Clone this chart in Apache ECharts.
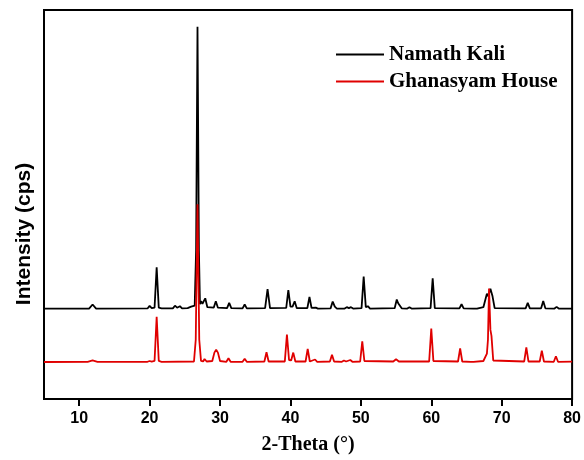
<!DOCTYPE html>
<html>
<head>
<meta charset="utf-8">
<script src="https://cdn.jsdelivr.net/npm/echarts@6/dist/echarts.min.js"></script>
<style>
html,body{margin:0;padding:0;background:#fff;}
#chart{width:584px;height:460px;}
</style>
</head>
<body>
<div id="chart"></div>
<script>
// 2-Theta tick labels
var xTicks = [10, 20, 30, 40, 50, 60, 70, 80];
var seriesNames = ['Namath Kali', 'Ghanasyam House'];

// Namath Kali pattern [2-theta, intensity] (plotted with vertical offset as in the figure)
var namathKali = [
  [5,915],
  [11.4,915],[11.9,957],[12.4,915],
  [19.7,917],[20.0,943],[20.3,920],
  [20.7,925],[21.0,1333],[21.3,925],[21.7,918],
  [23.3,918],[23.6,945],[23.9,925],[24.3,940],[24.6,918],
  [25.4,920],[25.9,935],[26.4,945],
  [26.6,1500],[26.8,3770],[27.0,1500],
  [27.15,960],[27.3,990],[27.5,965],[27.9,1020],[28.2,930],
  [29.1,925],[29.4,990],[29.7,925],
  [31.0,920],[31.3,973],[31.6,920],
  [33.2,918],[33.5,957],[33.8,918],
  [36.4,920],[36.75,1113],[37.1,920],
  [39.4,922],[39.7,1103],[40.0,935],[40.3,935],[40.6,990],[40.9,920],
  [42.4,920],[42.7,1033],[43.0,922],[43.6,925],[43.9,916],
  [45.7,918],[46.0,987],[46.3,935],[46.6,916],
  [47.7,916],[48.0,930],[48.3,920],[48.6,930],[48.9,916],
  [50.1,920],[50.4,1240],[50.7,930],[51.0,940],[51.3,916],
  [54.8,920],[55.1,1007],[55.3,970],[55.5,990],[55.8,918],
  [56.6,916],[56.9,930],[57.2,916],
  [59.9,920],[60.2,1223],[60.5,920],
  [64.0,918],[64.3,960],[64.6,918],
  [66.0,916],[66.25,925],[66.5,916],
  [67.4,930],[67.9,1067],[68.1,1040],[68.4,1117],[68.7,1040],[69.0,920],
  [73.4,918],[73.7,973],[74.0,918],
  [75.6,918],[75.9,993],[76.2,918],
  [77.5,916],[77.8,933],[78.1,916],
  [80,915]
];

// Ghanasyam House pattern [2-theta, intensity]
var ghanasyamHouse = [
  [5,375],
  [11.2,377],[11.9,390],[12.6,377],
  [19.7,377],[20.0,385],[20.3,378],
  [20.7,385],[21.0,833],[21.3,385],[21.7,377],
  [26.3,380],[26.55,600],[26.8,1973],[27.05,600],[27.3,385],
  [27.6,380],[27.8,405],[28.1,380],
  [28.9,385],[29.2,470],[29.45,500],[29.7,470],[30.0,385],
  [30.9,377],[31.2,413],[31.5,377],
  [33.2,377],[33.5,407],[33.8,377],
  [36.3,380],[36.6,473],[36.9,380],
  [39.2,380],[39.5,653],[39.8,395],[40.1,390],[40.4,470],[40.7,380],
  [42.15,380],[42.45,507],[42.75,380],[43.5,400],[43.8,377],
  [45.6,380],[45.9,447],[46.2,380],
  [47.3,377],[47.6,390],[47.9,380],[48.5,395],[48.8,377],
  [49.9,380],[50.2,583],[50.5,385],
  [54.6,380],[55.0,403],[55.4,380],
  [59.7,380],[60.0,713],[60.3,385],
  [63.8,380],[64.1,513],[64.4,380],
  [65.6,377],[65.8,387],[66.0,377],
  [67.4,385],[67.9,460],[68.05,600],[68.2,1120],[68.4,700],[68.55,640],[68.8,390],
  [73.2,380],[73.5,523],[73.8,380],
  [75.4,380],[75.7,490],[76.0,380],
  [77.4,377],[77.7,433],[78.0,377],
  [80,378]
];

var chart = echarts.init(document.getElementById('chart'), null, {renderer:'canvas'});
chart.setOption({
  animation: false,
  backgroundColor: '#fff',
  grid: {left: 44, right: 9, top: 10, bottom: 56, show: true, borderColor: '#000', borderWidth: 2, containLabel: false},
  legend: {
    orient: 'vertical',
    left: 336, top: 44,
    padding: 0,
    icon: 'rect',
    itemWidth: 48, itemHeight: 2,
    itemGap: 6,
    data: seriesNames,
    textStyle: {fontFamily: 'Liberation Serif', fontWeight: 'bold', fontSize: 21, color: '#000'}
  },
  xAxis: {
    type: 'value', min: 5, max: 80,
    name: '2-Theta (°)', nameLocation: 'middle', nameGap: 36,
    nameTextStyle: {fontFamily: 'Liberation Serif', fontWeight: 'bold', fontSize: 20, color: '#000'},
    axisLine: {show: true, onZero: false, lineStyle: {color: '#000', width: 2}},
    axisTick: {show: true, inside: false, length: 7, customValues: xTicks, lineStyle: {color: '#000', width: 2}},
    axisLabel: {customValues: xTicks, margin: 12, fontFamily: 'Liberation Sans', fontWeight: 'bold', fontSize: 16, color: '#000'},
    splitLine: {show: false}
  },
  yAxis: {
    type: 'value', min: 0, max: 3940,
    axisLine: {show: true, lineStyle: {color: '#000', width: 2}},
    axisTick: {show: false},
    axisLabel: {show: false},
    splitLine: {show: false}
  },
  graphic: [{
    type: 'text', x: 24, y: 234, rotation: Math.PI / 2,
    style: {text: 'Intensity (cps)', fontFamily: 'Liberation Sans', fontWeight: 'bold', fontSize: 21, fill: '#000', align: 'center', verticalAlign: 'middle'}
  }],
  series: [
    {name: seriesNames[0], type: 'line', data: namathKali, symbol: 'none', lineStyle: {color: '#000', width: 1.8}, itemStyle: {color: '#000'}, z: 2},
    {name: seriesNames[1], type: 'line', data: ghanasyamHouse, symbol: 'none', lineStyle: {color: '#e00000', width: 1.8}, itemStyle: {color: '#e00000'}, z: 3}
  ]
});
</script>
</body>
</html>
